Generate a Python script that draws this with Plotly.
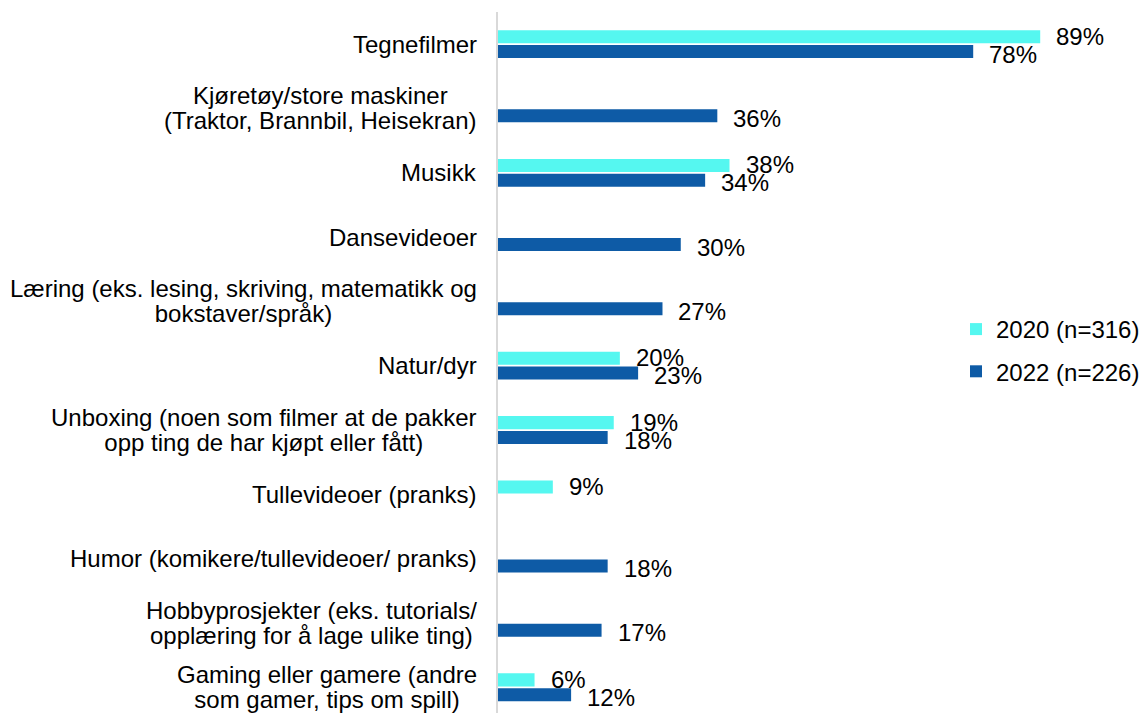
import plotly.graph_objects as go

categories = [
    "Tegnefilmer",
    "Kjøretøy/store maskiner<br>(Traktor, Brannbil, Heisekran)",
    "Musikk",
    "Dansevideoer",
    "Læring (eks. lesing, skriving, matematikk og<br>bokstaver/språk)",
    "Natur/dyr",
    "Unboxing (noen som filmer at de pakker<br>opp ting de har kjøpt eller fått)",
    "Tullevideoer (pranks)",
    "Humor (komikere/tullevideoer/ pranks)",
    "Hobbyprosjekter (eks. tutorials/<br>opplæring for å lage ulike ting)",
    "Gaming eller gamere (andre<br>som gamer, tips om spill)",
]
values_2020 = [89, None, 38, None, None, 20, 19, 9, None, None, 6]
values_2022 = [78, 36, 34, 30, 27, 23, 18, None, 18, 17, 12]
series_names = ["2020 (n=316)", "2022 (n=226)"]
colors = ["#55F7F0", "#0E5BA6"]

FONT = "Liberation Sans, Arial, sans-serif"
FS = 24
LINE_FS = 19.3  # controls the line spacing of multi-line category labels


def tight_lines(label):
    return "<br>".join(
        f'<span style="font-size:{FS}px">{part}</span>' for part in label.split("<br>")
    )


fig = go.Figure()
for name, vals, col, grp in zip(series_names, [values_2020, values_2022], colors, ["a", "b"]):
    fig.add_trace(go.Bar(
        y=categories, x=vals, name=name, orientation="h",
        marker=dict(color=col, line=dict(width=0)),
        legendgroup=grp, hoverinfo="skip",
    ))

annotations = []
# category labels (centered multi-line blocks, right aligned to axis)
for c in categories:
    multi = "<br>" in c
    annotations.append(dict(
        x=0, xref="paper", y=c, yref="y",
        text=tight_lines(c) if multi else c, showarrow=False,
        xanchor="right", yanchor="middle", align="center", xshift=-19,
        font=dict(family=FONT, size=LINE_FS if multi else FS, color="#000000"),
    ))
# value labels
for vals, ysh in [(values_2020, 8), (values_2022, -10)]:
    for c, v in zip(categories, vals):
        if v is None:
            continue
        annotations.append(dict(
            x=v, xref="x", y=c, yref="y", text=f"{v}%", showarrow=False,
            xanchor="left", yanchor="middle", xshift=14, yshift=ysh,
            font=dict(family=FONT, size=FS, color="#000000"),
        ))

fig.update_layout(
    width=1145, height=713,
    margin=dict(l=498, r=0, t=12, b=0),
    paper_bgcolor="white", plot_bgcolor="white",
    barmode="group", bargap=0.54, bargroupgap=0.12,
    font=dict(family=FONT, size=FS, color="#000000"),
    xaxis=dict(range=[0, 106.2], visible=False, showgrid=False, zeroline=False),
    yaxis=dict(
        type="category", categoryorder="array", categoryarray=categories,
        range=[10.4, -0.5], showticklabels=False, ticks="",
        showline=True, linecolor="#D9D9D9", linewidth=2, showgrid=False, zeroline=False,
    ),
    showlegend=True,
    legend=dict(
        x=1, xanchor="right",
        y=1 - (307 - 12) / 701, yanchor="top",
        tracegroupgap=8, traceorder="grouped",
        font=dict(family=FONT, size=FS, color="#000000"),
        bgcolor="rgba(0,0,0,0)",
    ),
    annotations=annotations,
)

fig.write_html(
    "out.html",
    config={"displayModeBar": False},
    post_script="document.body.style.margin='0';document.body.style.padding='0';",
)
